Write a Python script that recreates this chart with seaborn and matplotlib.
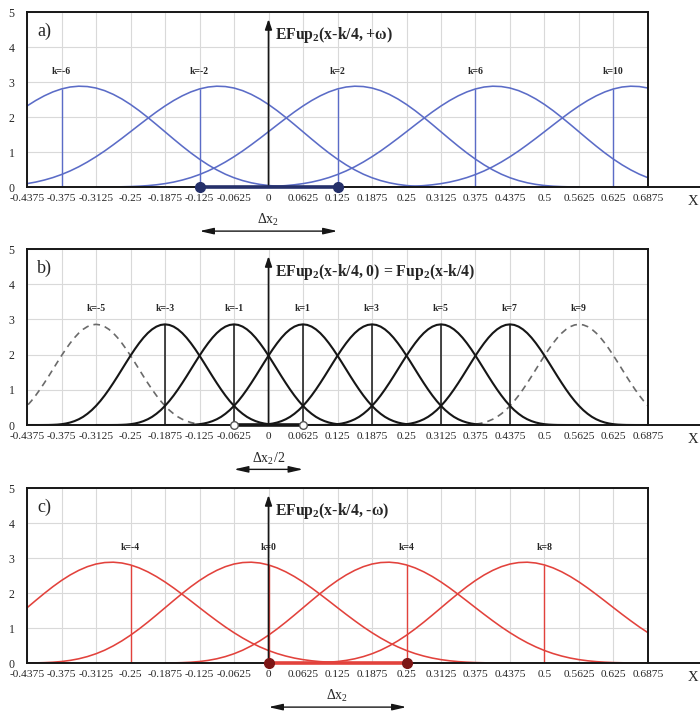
import numpy as np
import matplotlib
matplotlib.use("Agg")
import matplotlib.pyplot as plt
import matplotlib.transforms as mtransforms
import seaborn as sns

# ---------------------------------------------------------------- data
x_ticks = [-0.4375, -0.375, -0.3125, -0.25, -0.1875, -0.125, -0.0625, 0.0,
           0.0625, 0.125, 0.1875, 0.25, 0.3125, 0.375, 0.4375, 0.5, 0.5625,
           0.625, 0.6875]
x_tick_labels = ["-0.4375", "-0.375", "-0.3125", "-0.25", "-0.1875", "-0.125",
                 "-0.0625", "0", "0.0625", "0.125", "0.1875", "0.25", "0.3125",
                 "0.375", "0.4375", "0.5", "0.5625", "0.625", "0.6875"]
y_ticks = [0, 1, 2, 3, 4, 5]

# Fup2 bump, right half (symmetric), sampled every 1/128 from its centre
fup2_half = [2.860, 2.844, 2.796, 2.718, 2.612, 2.480, 2.326, 2.155, 1.971,
             1.778, 1.581, 1.384, 1.193, 1.010, 0.839, 0.683, 0.544, 0.422,
             0.319, 0.232, 0.164, 0.111, 0.071, 0.043, 0.024, 0.012, 0.006,
             0.002, 0.001, 0.0, 0.0, 0.0, 0.0]
fup2_step = 1 / 128

# EFup2(., +omega) bump, sampled every 1/64 from -0.4375 to 0.4375 around k/16
efup_plus = [0.000, 0.001, 0.003, 0.007, 0.013, 0.024, 0.040, 0.064, 0.097,
             0.141, 0.199, 0.270, 0.357, 0.460, 0.579, 0.715, 0.866, 1.030,
             1.207, 1.391, 1.581, 1.773, 1.962, 2.145, 2.316, 2.471, 2.606,
             2.718, 2.803, 2.858, 2.881, 2.871, 2.829, 2.754, 2.648, 2.516,
             2.359, 2.182, 1.989, 1.786, 1.578, 1.370, 1.167, 0.974, 0.795,
             0.633, 0.490, 0.366, 0.265, 0.184, 0.121, 0.075, 0.043, 0.023,
             0.011, 0.004, 0.001]
efup_step = 1 / 64
# with -omega the bump is the mirror image
efup_minus = efup_plus[::-1]

k_unit = 0.0625              # node k sits at x = k * k_unit
k_plus = [-6, -2, 2, 6, 10]
k_zero_solid = [-3, -1, 1, 3, 5, 7]
k_zero_dashed = [-5, 9]
k_minus = [-4, 0, 4, 8]

# support intervals marked on the x axis
dx_plus = [-0.125, 0.125]
dx_zero = [-0.0625, 0.0625]
dx_minus = [0.0, 0.25]

# ---------------------------------------------------------------- style
sns.set_theme(style="whitegrid")
plt.rcParams.update({
    "font.family": ["Liberation Serif", "DejaVu Serif"],
    "mathtext.fontset": "custom",
    "mathtext.rm": "Liberation Serif",
    "mathtext.it": "Liberation Serif:italic",
    "mathtext.bf": "Liberation Serif:bold",
    "axes.unicode_minus": False,
})

BLUE = "#5b6cc7"
NAVY = "#25306a"
RED = "#e2423c"
DARKRED = "#7d1616"
INK = "#161616"

fig = plt.figure(figsize=(7.0, 7.13), dpi=100)
rects = [[0.0386, 0.7377, 0.8871, 0.2454],
         [0.0386, 0.4039, 0.8871, 0.2468],
         [0.0386, 0.0701, 0.8871, 0.2454]]
axes = [fig.add_axes(r) for r in rects]


def bump_xy(center, profile, step, symmetric_half=False):
    prof = np.asarray(profile, dtype=float)
    if symmetric_half:
        prof = np.r_[prof[:0:-1], prof]
    n = len(prof)
    offs = (np.arange(n) - (n - 1) / 2) * step
    return center + offs, prof


def frame(ax, tag, title):
    ax.set_facecolor("white")
    ax.set_xlim(x_ticks[0], x_ticks[-1])
    ax.set_ylim(y_ticks[0], y_ticks[-1])
    ax.set_xticks(x_ticks)
    ax.set_xticklabels(x_tick_labels, fontsize=8.2)
    ax.set_yticks(y_ticks)
    ax.set_yticklabels([str(v) for v in y_ticks], fontsize=8.5)
    ax.tick_params(length=0)
    ax.tick_params(axis="x", pad=5)
    ax.tick_params(axis="y", pad=9)
    ax.grid(True, color="#d9d9d9", linewidth=0.8)
    for s in ax.spines.values():
        s.set_visible(True)
        s.set_color(INK)
        s.set_linewidth(1.4)
        s.set_zorder(6)
    # extension of the x axis and its label
    ax.plot([1.0, 1.084], [0, 0], transform=ax.transAxes, clip_on=False,
            color=INK, lw=1.4)
    ax.text(1.0725, -0.08, "X", transform=ax.transAxes, fontsize=10.5,
            ha="center", va="center")
    # vertical axis arrow through x = 0
    ax.annotate("", xy=(0, 4.8), xytext=(0, 0),
                arrowprops=dict(arrowstyle="-|>,head_length=0.5,head_width=0.17",
                                color=INK, lw=1.2, shrinkA=0, shrinkB=0),
                zorder=4)
    ax.text(-0.4194, 4.45, tag, fontsize=13, ha="left", va="center")
    ax.text(0.012, 4.35, title, fontsize=11.3, fontweight="bold",
            ha="left", va="center")


def support_marks(ax, span, label, line_color, face, edge, ms):
    ax.plot(span, [0, 0], color=line_color, lw=2.6, solid_capstyle="butt",
            clip_on=False, zorder=7)
    ax.plot(span, [0, 0], linestyle="none", marker="o", ms=ms,
            markerfacecolor=face, markeredgecolor=edge, markeredgewidth=1.0,
            clip_on=False, zorder=8)
    trans = mtransforms.blended_transform_factory(ax.transData, ax.transAxes)
    ax.annotate("", xy=(span[1], -0.252), xytext=(span[0], -0.252),
                xycoords=trans, textcoords=trans, annotation_clip=False,
                arrowprops=dict(arrowstyle="<|-|>,head_length=0.7,head_width=0.16",
                                color=INK, lw=1.0, shrinkA=0, shrinkB=0))
    ax.text(sum(span) / 2, -0.19, label, transform=trans, fontsize=10,
            ha="center", va="center")


def k_label(ax, x, k):
    ax.text(x, 3.3, f"k={k}", fontsize=7, fontweight="bold",
            ha="center", va="center")


# ---------------------------------------------------------------- a) +omega
ax = axes[0]
mid = len(efup_plus) // 2
for k in k_plus:
    c = k * k_unit
    xs, ys = bump_xy(c, efup_plus, efup_step)
    sns.lineplot(x=xs, y=ys, ax=ax, color=BLUE, linewidth=1.15,
                 estimator=None, sort=False, legend=False)
    ax.vlines(c, 0, efup_plus[mid], color=BLUE, lw=1.0)
    k_label(ax, c, k)
frame(ax, "a)", r"EFup$_\mathbf{2}$(x-k/4, +ω)")
support_marks(ax, dx_plus, r"Δx$_2$", NAVY, NAVY, NAVY, 7)

# ---------------------------------------------------------------- b) zero
ax = axes[1]
for k in k_zero_dashed:
    c = k * k_unit
    xs, ys = bump_xy(c, fup2_half, fup2_step, symmetric_half=True)
    sns.lineplot(x=xs, y=ys, ax=ax, color="#6a6a6a", linewidth=1.2,
                 linestyle=(0, (4, 3)), estimator=None, sort=False,
                 legend=False)
    k_label(ax, c, k)
for k in k_zero_solid:
    c = k * k_unit
    xs, ys = bump_xy(c, fup2_half, fup2_step, symmetric_half=True)
    sns.lineplot(x=xs, y=ys, ax=ax, color=INK, linewidth=1.5,
                 estimator=None, sort=False, legend=False)
    ax.vlines(c, 0, fup2_half[0], color=INK, lw=1.1)
    k_label(ax, c, k)
frame(ax, "b)", r"EFup$_\mathbf{2}$(x-k/4, 0) = Fup$_\mathbf{2}$(x-k/4)")
support_marks(ax, dx_zero, r"Δx$_2$/2", INK, "white", "#555555", 5.5)

# ---------------------------------------------------------------- c) -omega
ax = axes[2]
mid = len(efup_minus) // 2
for k in k_minus:
    c = k * k_unit
    xs, ys = bump_xy(c, efup_minus, efup_step)
    sns.lineplot(x=xs, y=ys, ax=ax, color=RED, linewidth=1.15,
                 estimator=None, sort=False, legend=False)
    ax.vlines(c, 0, efup_minus[mid], color=RED, lw=1.0)
    k_label(ax, c, k)
frame(ax, "c)", r"EFup$_\mathbf{2}$(x-k/4, -ω)")
support_marks(ax, dx_minus, r"Δx$_2$", RED, DARKRED, DARKRED, 7)

fig.savefig("out.png", dpi=100, facecolor="white")
